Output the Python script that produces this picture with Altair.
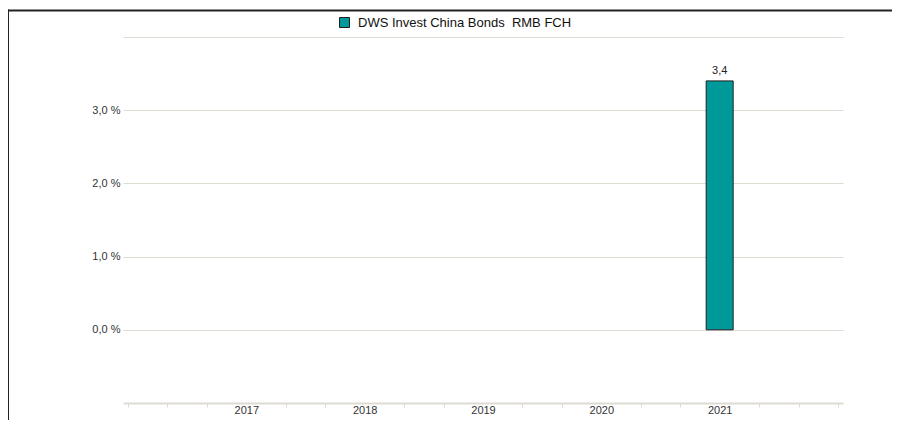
import altair as alt
import pandas as pd

years = [2017, 2018, 2019, 2020, 2021]
values = [None, None, None, None, 3.4]
series_name = "DWS Invest China Bonds \u00a0RMB FCH"

df = pd.DataFrame({"year": years, "value": values, "series": [series_name] * len(years)})

x_ticks = [round(2016 + i / 3, 6) for i in range(19)]
y_ticks = [0, 1, 2, 3, 4]

FONT = "Liberation Sans"
GRID = "#dedbd3"

x_scale = alt.Scale(domain=[2016, 2022], nice=False, zero=False)
y_scale = alt.Scale(domain=[-1, 4], nice=False)

LABEL_TEST = "abs(datum.value - round(datum.value)) < 0.001 && datum.value > 2016.5 && datum.value < 2021.5"
x_axis = alt.Axis(values=x_ticks, grid=False, domainColor=GRID, domainWidth=2,
                  tickColor=GRID, tickSize=4, tickWidth=1,
                  tickOpacity={"condition": {"test": LABEL_TEST, "value": 0}, "value": 1},
                  labelExpr=LABEL_TEST + " ? format(datum.value, 'd') : ''",
                  labelFont=FONT, labelFontSize=11, labelColor="#333333",
                  labelPadding=-3, labelFlush=False, labelOverlap=False)
y_axis = alt.Axis(values=y_ticks, domain=False, ticks=False, gridColor=GRID, gridWidth=1,
                  labelExpr="datum.value <= 3 ? replace(format(datum.value, '.1f'), '.', ',') + ' %' : ''",
                  labelFont=FONT, labelFontSize=11, labelColor="#333333", labelPadding=3)

bars = alt.Chart(df).mark_bar(size=27, stroke="#1f1f1f", strokeWidth=1).encode(
    x=alt.X("year:Q", scale=x_scale, title=None, axis=x_axis),
    y=alt.Y("value:Q", scale=y_scale, title=None, axis=y_axis),
    color=alt.Color("series:N", title=None,
                    scale=alt.Scale(domain=[series_name], range=["#009999"]),
                    legend=alt.Legend(orient="none", legendX=215, legendY=-21, symbolType="square",
                                      symbolSize=100, symbolStrokeColor="#1f1f1f", symbolStrokeWidth=1,
                                      symbolOpacity=1, labelLimit=0, labelOffset=7,
                                      labelFont=FONT, labelFontSize=13, labelColor="#111111")),
)

labels = alt.Chart(df).transform_filter("isValid(datum.value)").transform_calculate(
    lab="replace(format(datum.value, '.1f'), '.', ',')"
).mark_text(font=FONT, fontSize=11, color="#222222", dy=-10).encode(
    x=alt.X("year:Q", scale=x_scale, title=None, axis=x_axis),
    y=alt.Y("value:Q", scale=y_scale, title=None, axis=y_axis),
    text="lab:N",
)

border_df = pd.DataFrame({"b": [0]})
top_border = alt.Chart(border_df).mark_rule(color="#222222", strokeWidth=2).encode(
    x=alt.value(-115), x2=alt.value(769), y=alt.value(-26.5)
)
left_border = alt.Chart(border_df).mark_rule(color="#222222", strokeWidth=2).encode(
    x=alt.value(-115), y=alt.value(-27.5), y2=alt.value(383)
)

chart = alt.layer(bars, labels, top_border, left_border).properties(
    width=720, height=366,
    autosize=alt.AutoSizeParams(type="none"),
    padding={"left": 115, "top": 29, "right": 49, "bottom": 17},
).configure(background="white").configure_view(stroke=None)

chart.save("out.html", embed_options={"renderer": "svg", "actions": False})
